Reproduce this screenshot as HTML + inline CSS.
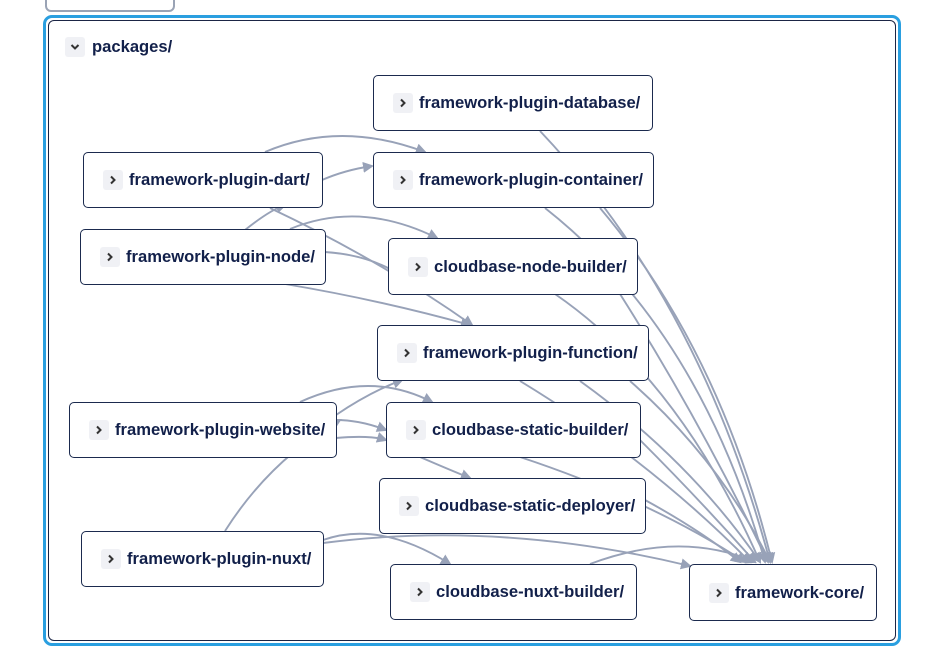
<!DOCTYPE html>
<html><head><meta charset="utf-8"><style>
html,body{margin:0;padding:0;background:#fff;width:943px;height:669px;overflow:hidden;font-family:"Liberation Sans",Arial,sans-serif;}
.abs{position:absolute;}
.outer{left:43px;top:15px;width:852px;height:625px;border:3px solid #2a9fe0;border-radius:9px;}
.inner{left:48px;top:20px;width:846px;height:619px;border:1px solid #1b2545;border-radius:6px;}
.stub{left:45px;top:-10px;width:126px;height:18px;border:2px solid #9aa3b5;border-radius:6px;}
.node{position:absolute;box-sizing:border-box;border:1px solid #1b2a4e;border-radius:5px;background:#fff;display:flex;align-items:center;font-weight:bold;font-size:16.6px;color:#12204a;padding-left:19px;white-space:nowrap;}
.ch{width:20px;height:20px;background:#f0f1f5;border-radius:3px;margin-right:6px;display:flex;align-items:center;justify-content:center;flex:none;}
svg{position:absolute;left:0;top:0;}
</style></head><body>
<div class="abs stub"></div>
<div class="abs outer"></div>
<div class="abs inner"></div>
<div class="abs" style="left:65px;top:37px;display:flex;align-items:center;font-weight:bold;font-size:16.6px;color:#12204a;">
<div class="ch" style="margin-right:7px"><svg width="12" height="12" style="position:static"><path d="M2.5 4 L6 7.5 L9.5 4" fill="none" stroke="#333" stroke-width="2"/></svg></div>packages/</div>

<svg width="943" height="669">
<defs><marker id="a" markerWidth="11" markerHeight="11" refX="9" refY="5.5" orient="auto" markerUnits="userSpaceOnUse"><path d="M0 0 L11 5.5 L0 11 Z" fill="#98a2b8"/></marker></defs>
<g fill="none" stroke="#98a2b8" stroke-width="1.9" marker-end="url(#a)">
<path d="M540 131 Q700 300 770 562"/>
<path d="M545 208 Q700 330 765 562"/>
<path d="M600 208 Q720 350 772 562"/>
<path d="M322 180 Q345 170 372 166"/>
<path d="M265 152 Q340 120 425 152"/>
<path d="M270 208 Q380 260 472 325"/>
<path d="M245 230 Q270 210 285 205"/>
<path d="M290 229 Q360 200 437 238"/>
<path d="M325 252 Q370 255 400 275"/>
<path d="M285 284 Q380 300 470 325"/>
<path d="M555 294 Q680 380 760 562"/>
<path d="M620 294 Q700 420 768 562"/>
<path d="M520 381 Q650 460 750 562"/>
<path d="M580 381 Q690 460 760 562"/>
<path d="M630 381 Q720 460 770 562"/>
<path d="M336 415 Q370 392 402 380"/>
<path d="M300 402 Q370 370 432 402"/>
<path d="M336 438 Q370 435 386 440"/>
<path d="M336 420 Q360 420 386 430"/>
<path d="M420 457 Q450 470 470 478"/>
<path d="M520 457 Q650 500 745 562"/>
<path d="M640 440 Q700 500 755 562"/>
<path d="M645 500 Q700 530 740 562"/>
<path d="M225 531 Q270 460 340 420"/>
<path d="M323 540 Q380 520 450 564"/>
<path d="M323 543 Q500 520 690 566"/>
<path d="M590 564 Q680 530 755 562"/>
</g></svg>

<div class="node" style="left:373px;top:75px;width:280px;height:56px"><div class="ch"><svg width="12" height="12" style="position:static"><path d="M4 2.5 L7.5 6 L4 9.5" fill="none" stroke="#333" stroke-width="2"/></svg></div>framework-plugin-database/</div>
<div class="node" style="left:83px;top:152px;width:240px;height:56px"><div class="ch"><svg width="12" height="12" style="position:static"><path d="M4 2.5 L7.5 6 L4 9.5" fill="none" stroke="#333" stroke-width="2"/></svg></div>framework-plugin-dart/</div>
<div class="node" style="left:373px;top:152px;width:281px;height:56px"><div class="ch"><svg width="12" height="12" style="position:static"><path d="M4 2.5 L7.5 6 L4 9.5" fill="none" stroke="#333" stroke-width="2"/></svg></div>framework-plugin-container/</div>
<div class="node" style="left:80px;top:229px;width:246px;height:56px"><div class="ch"><svg width="12" height="12" style="position:static"><path d="M4 2.5 L7.5 6 L4 9.5" fill="none" stroke="#333" stroke-width="2"/></svg></div>framework-plugin-node/</div>
<div class="node" style="left:388px;top:238px;width:250px;height:57px"><div class="ch"><svg width="12" height="12" style="position:static"><path d="M4 2.5 L7.5 6 L4 9.5" fill="none" stroke="#333" stroke-width="2"/></svg></div>cloudbase-node-builder/</div>
<div class="node" style="left:377px;top:325px;width:272px;height:56px"><div class="ch"><svg width="12" height="12" style="position:static"><path d="M4 2.5 L7.5 6 L4 9.5" fill="none" stroke="#333" stroke-width="2"/></svg></div>framework-plugin-function/</div>
<div class="node" style="left:69px;top:402px;width:268px;height:56px"><div class="ch"><svg width="12" height="12" style="position:static"><path d="M4 2.5 L7.5 6 L4 9.5" fill="none" stroke="#333" stroke-width="2"/></svg></div>framework-plugin-website/</div>
<div class="node" style="left:386px;top:402px;width:255px;height:56px"><div class="ch"><svg width="12" height="12" style="position:static"><path d="M4 2.5 L7.5 6 L4 9.5" fill="none" stroke="#333" stroke-width="2"/></svg></div>cloudbase-static-builder/</div>
<div class="node" style="left:379px;top:478px;width:267px;height:56px"><div class="ch"><svg width="12" height="12" style="position:static"><path d="M4 2.5 L7.5 6 L4 9.5" fill="none" stroke="#333" stroke-width="2"/></svg></div>cloudbase-static-deployer/</div>
<div class="node" style="left:81px;top:531px;width:243px;height:56px"><div class="ch"><svg width="12" height="12" style="position:static"><path d="M4 2.5 L7.5 6 L4 9.5" fill="none" stroke="#333" stroke-width="2"/></svg></div>framework-plugin-nuxt/</div>
<div class="node" style="left:390px;top:564px;width:247px;height:56px"><div class="ch"><svg width="12" height="12" style="position:static"><path d="M4 2.5 L7.5 6 L4 9.5" fill="none" stroke="#333" stroke-width="2"/></svg></div>cloudbase-nuxt-builder/</div>
<div class="node" style="left:689px;top:564px;width:188px;height:57px"><div class="ch"><svg width="12" height="12" style="position:static"><path d="M4 2.5 L7.5 6 L4 9.5" fill="none" stroke="#333" stroke-width="2"/></svg></div>framework-core/</div>
</body></html>
